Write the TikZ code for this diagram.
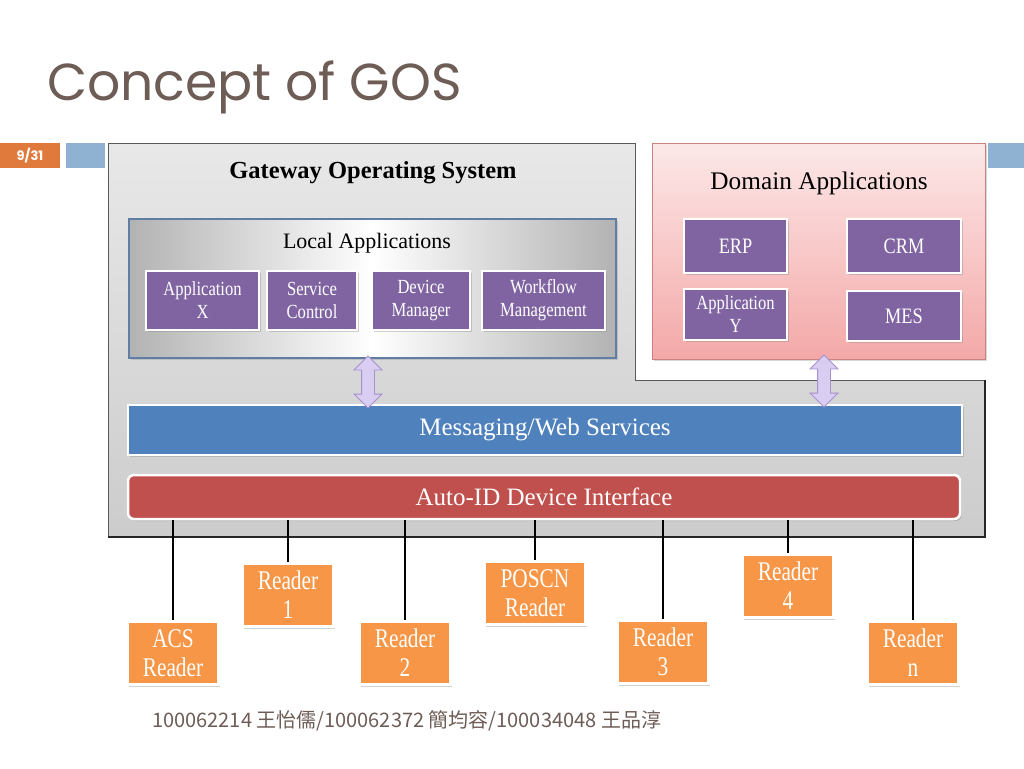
\documentclass[tikz,border=0pt]{standalone}
\usepackage{fontspec}
\setmainfont{Liberation Serif}
\newfontfamily\condA{Liberation Serif}[FakeStretch=0.83]
\newfontfamily\condB{Liberation Serif}[FakeStretch=0.79]
\newfontfamily\titlefont{Poppins}
\newfontfamily\cjkfont{Noto Sans CJK TC}
\usetikzlibrary{shapes.arrows,shadows,calc}
\definecolor{titlec}{RGB}{110,93,86}
\definecolor{pageor}{RGB}{224,122,60}
\definecolor{stripb}{RGB}{143,178,211}
\definecolor{purp}{RGB}{128,100,162}
\definecolor{readeror}{RGB}{247,150,70}
\definecolor{msgblue}{RGB}{79,129,189}
\definecolor{autored}{RGB}{192,80,77}
\definecolor{lav}{RGB}{218,205,242}
\definecolor{lavd}{RGB}{165,145,205}
\definecolor{pinkt}{RGB}{252,232,232}
\definecolor{pinkb}{RGB}{244,168,168}
\definecolor{pinkd}{RGB}{200,130,130}
\definecolor{localb}{RGB}{95,125,165}
\definecolor{grayt}{RGB}{232,232,232}
\definecolor{grayb}{RGB}{204,204,204}
\tikzset{
  shade1/.style={drop shadow={shadow xshift=1.5pt,shadow yshift=-2pt,opacity=.35}},
  appbox/.style={draw=white,line width=2.5pt,fill=purp,text=white,shade1,
     minimum height=59pt,align=center,inner sep=1pt,
     font=\condA\fontsize{20}{23}\selectfont},
  domapp/.style={appbox,font=\condA\fontsize{22}{24}\selectfont},
  reader/.style={draw=white,line width=2.5pt,fill=readeror,text=white,shade1,
     minimum width=91pt,minimum height=63pt,align=center,inner sep=1pt,
     font=\condB\fontsize{27}{29}\selectfont},
  bar/.style={draw=white,line width=2.5pt,shade1,text=white,inner sep=0pt,
     font=\fontsize{25}{28}\selectfont},
  dbl/.style={double arrow,rotate=90,fill=lav,draw=lavd,line width=0.8pt,
     minimum height=52pt,inner sep=6pt,double arrow head extend=7.5pt},
  conn/.style={draw=black,line width=1.4pt}
}
\begin{document}
\begin{tikzpicture}[x=1pt,y=-1pt]
\path[use as bounding box,fill=white] (0,0) rectangle (1024,768);

% title
\node[anchor=base west,inner sep=0,text=titlec,font=\titlefont\fontsize{52}{60}\selectfont] (title) at (47,100) {Concept of GOS};

% page strip
\fill[pageor] (0,143) rectangle (60,168);
\node[text=white,font=\titlefont\bfseries\fontsize{13}{15}\selectfont] (pnum) at (30,155.5) {9/31};
\fill[stripb] (66,143) rectangle (105,168);
\fill[stripb] (988,143) rectangle (1024,168);

% gateway box
\shade[top color=grayt,bottom color=grayb,draw=gray!70!black,line width=1pt]
  (108,143) -- (635,143) -- (635,380) -- (985,380) -- (985,537) -- (108,537) -- cycle;
\draw[line width=2pt,black!85] (108,537) -- (985,537) -- (985,380);
\node[font=\bfseries\fontsize{24.5}{28}\selectfont] (gos) at (373,173) {Gateway Operating System};

% domain box
\node[draw=pinkd,line width=1pt,top color=pinkt,bottom color=pinkb,minimum width=333pt,minimum height=216pt,
      drop shadow={shadow xshift=1.5pt,shadow yshift=-2pt,opacity=.3},inner sep=0] (dom) at (818.5,251) {};
\node[font=\fontsize{25.3}{28}\selectfont] (domt) at (819,183) {Domain Applications};

% local applications
\node[draw=localb,line width=1.2pt,left color=gray!60,right color=gray!60,middle color=white,
      minimum width=487pt,minimum height=139pt,inner sep=0,
      drop shadow={shadow xshift=1.5pt,shadow yshift=-2pt,opacity=.3}] (local) at (372.5,288.5) {};
\node[font=\fontsize{22}{24}\selectfont] (localt) at (367,243) {Local Applications};

\node[appbox,minimum width=113pt] (appx) at (202.5,300.5) {Application\\X};
\node[appbox,minimum width=90pt] (svc) at (312,300.5) {Service\\Control};
\node[appbox,minimum width=98pt] (dev) at (421,300.5) {Device\\Manager};
\node[appbox,minimum width=123pt] (wf) at (543.5,300.5) {Workflow\\Management};

\node[domapp,minimum width=103pt,minimum height=54pt] (erp) at (735.5,246) {ERP};
\node[domapp,minimum width=114pt,minimum height=54pt] (crm) at (904,246) {CRM};
\node[appbox,minimum width=103pt,minimum height=51pt] (appy) at (735.5,314.5) {Application\\Y};
\node[domapp,minimum width=114pt,minimum height=50pt] (mes) at (904,316) {MES};

% bars
\node[bar,fill=msgblue,minimum width=834pt,minimum height=50pt] (msg) at (545,430) {Messaging/Web Services};
\node[bar,fill=autored,rounded corners=6pt,minimum width=832pt,minimum height=44pt] (auto) at (544,497) {Auto-ID Device Interface};

% arrows
\node[dbl] (arr1) at (368,382) {};
\node[dbl] (arr2) at (824,381) {};

% readers
\node[reader] (acs) at (173,653) {ACS\\Reader};
\node[reader] (r1) at (288,595) {Reader\\1};
\node[reader] (r2) at (405,653) {Reader\\2};
\node[reader,minimum width=101pt] (pos) at (535,593) {POSCN\\Reader};
\node[reader] (r3) at (663,652) {Reader\\3};
\node[reader] (r4) at (788,586) {Reader\\4};
\node[reader] (rn) at (913,653) {Reader\\n};

\foreach \r in {acs,r1,r2,pos,r3,r4,rn}{
  \draw[conn] (auto.south -| \r.north) -- (\r.north);
}

% footer
\node[anchor=base west,inner sep=0,text=titlec,font=\cjkfont\fontsize{20}{22}\selectfont] (foot) at (152,727)
  {100062214 王怡儒/100062372 簡均容/100034048 王品淳};
\end{tikzpicture}
\end{document}
